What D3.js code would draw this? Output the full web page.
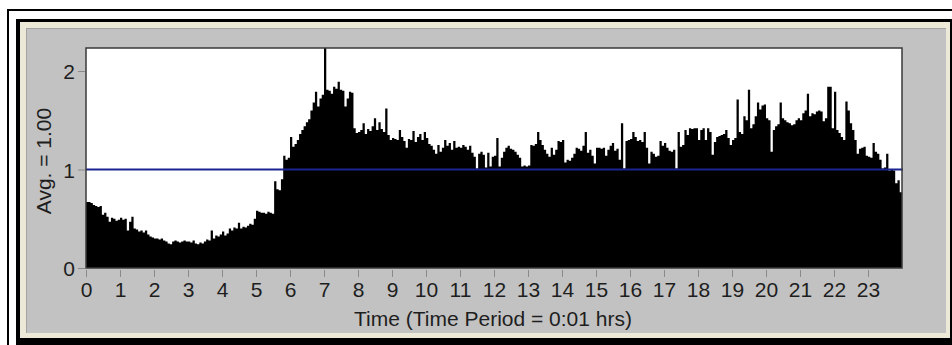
<!DOCTYPE html>
<html>
<head>
<meta charset="utf-8">
<script src="https://cdn.jsdelivr.net/npm/d3@7/dist/d3.min.js"></script>
<style>
  html, body { margin: 0; padding: 0; background: #ffffff; }
  svg { display: block; }
  text { font-family: "Liberation Sans", Arial, sans-serif; fill: #1e1e1e; }
</style>
</head>
<body>
<svg id="chart" width="952" height="345"></svg>
<script>
// Relative load per 4-minute interval, 15 intervals per hour (0:00 .. 23:56)
const minutesPerInterval = 4;
const intervalValues = [
  // 0h
  0.67,0.67,0.66,0.64,0.63,0.62,0.63,0.54,0.56,0.52,0.47,0.51,0.50,0.48,0.49,
  // 1h
  0.51,0.49,0.50,0.38,0.47,0.52,0.40,0.39,0.37,0.38,0.36,0.38,0.34,0.32,0.31,
  // 2h
  0.30,0.30,0.29,0.30,0.28,0.27,0.25,0.24,0.27,0.28,0.27,0.26,0.27,0.28,0.27,
  // 3h
  0.27,0.26,0.28,0.25,0.24,0.26,0.25,0.27,0.29,0.28,0.38,0.30,0.33,0.32,0.34,
  // 4h
  0.37,0.33,0.35,0.40,0.38,0.41,0.40,0.46,0.40,0.42,0.41,0.43,0.45,0.44,0.50,
  // 5h
  0.58,0.57,0.56,0.56,0.55,0.57,0.56,0.55,0.88,0.80,0.79,0.90,1.14,1.10,1.12,
  // 6h
  1.33,1.23,1.26,1.30,1.36,1.40,1.44,1.48,1.51,1.60,1.68,1.79,1.64,1.72,1.76,
  // 7h
  2.30,1.81,1.80,1.77,1.84,1.82,1.89,1.81,1.80,1.64,1.72,1.79,1.78,1.42,1.37,
  // 8h
  1.38,1.40,1.47,1.36,1.41,1.39,1.44,1.52,1.40,1.48,1.41,1.38,1.62,1.35,1.30,
  // 9h
  1.32,1.31,1.30,1.40,1.33,1.29,1.22,1.31,1.30,1.39,1.28,1.33,1.36,1.30,1.38,
  // 10h
  1.32,1.26,1.24,1.20,1.16,1.25,1.18,1.22,1.30,1.24,1.27,1.20,1.29,1.22,1.23,
  // 11h
  1.22,1.25,1.23,1.20,1.24,1.17,1.13,1.01,1.16,1.18,1.15,1.02,1.17,1.03,1.13,
  // 12h
  1.14,1.32,1.03,1.12,1.18,1.22,1.24,1.21,1.20,1.18,1.15,1.12,1.03,1.04,1.03,
  // 13h
  1.04,1.25,1.24,1.26,1.38,1.30,1.25,1.20,1.16,1.13,1.22,1.15,1.20,1.29,1.28,
  // 14h
  1.30,1.07,1.10,1.09,1.12,1.16,1.22,1.21,1.19,1.24,1.38,1.17,1.20,1.14,1.06,
  // 15h
  1.22,1.22,1.21,1.22,1.14,1.20,1.24,1.27,1.19,1.21,1.10,1.47,1.01,1.29,1.30,
  // 16h
  1.31,1.38,1.33,1.29,1.30,1.28,1.38,1.22,1.06,1.18,1.16,1.13,1.14,1.29,1.24,
  // 17h
  1.27,1.22,1.19,1.18,1.20,1.01,1.38,1.23,1.25,1.40,1.35,1.42,1.41,1.42,1.42,
  // 18h
  1.30,1.40,1.42,1.30,1.42,1.38,1.15,1.28,1.33,1.34,1.35,1.36,1.40,1.32,1.25,
  // 19h
  1.30,1.32,1.71,1.38,1.36,1.54,1.50,1.81,1.42,1.46,1.54,1.68,1.61,1.65,1.66,
  // 20h
  1.52,1.50,1.18,1.40,1.44,1.46,1.68,1.52,1.50,1.48,1.47,1.45,1.46,1.50,1.52,
  // 21h
  1.50,1.57,1.60,1.77,1.54,1.57,1.56,1.59,1.60,1.59,1.49,1.52,1.84,1.84,1.42,
  // 22h
  1.79,1.40,1.37,1.33,1.30,1.69,1.60,1.47,1.40,1.30,1.16,1.21,1.22,1.23,1.14,
  // 23h
  1.13,1.12,1.27,1.18,1.16,1.10,1.01,1.02,1.16,0.99,1.00,0.99,0.86,0.89,0.77
];
const hourTicks = d3.range(0, 24);               // 0 .. 23
const valueTicks = [0, 1, 2];
const averageValue = 1.00;
const yAxisTitle = "Avg. = 1.00";
const xAxisTitle = "Time (Time Period = 0:01 hrs)";

const svg = d3.select("#chart");

// Window-style frame around the chart panel
svg.append("rect").attr("x", 8).attr("y", 10).attr("width", 980).attr("height", 380)
  .attr("fill", "none").attr("stroke", "#000").attr("stroke-width", 2);
svg.append("rect").attr("x", 16).attr("y", 19).attr("width", 980).attr("height", 380).attr("fill", "#000");
svg.append("rect").attr("x", 20).attr("y", 22).attr("width", 930).attr("height", 316).attr("fill", "#ece9d8");
svg.append("rect").attr("x", 26).attr("y", 28).attr("width", 920).attr("height", 305).attr("fill", "#a3a3a3");
svg.append("rect").attr("x", 27).attr("y", 29).attr("width", 919).attr("height", 304).attr("fill", "#c2c2c2");

// Plot area
const plot = { left: 86, top: 48, right: 902, bottom: 268 };
const x = d3.scaleLinear().domain([0, 24]).range([plot.left, plot.right]);
const y = d3.scaleLinear().domain([0, 220 / 98.5]).range([plot.bottom, plot.top]);

svg.append("rect")
  .attr("x", plot.left).attr("y", plot.top)
  .attr("width", plot.right - plot.left).attr("height", plot.bottom - plot.top)
  .attr("fill", "#ffffff");

svg.append("clipPath").attr("id", "plotClip")
  .append("rect")
  .attr("x", plot.left).attr("y", plot.top)
  .attr("width", plot.right - plot.left).attr("height", plot.bottom - plot.top);

// Interval bars as one stepped area
const binHours = minutesPerInterval / 60;
const steps = intervalValues.map((v, i) => ({ t: i * binHours, v }));
steps.push({ t: 24, v: intervalValues[intervalValues.length - 1] });

const area = d3.area()
  .x(d => x(d.t))
  .y0(y(0))
  .y1(d => y(d.v))
  .curve(d3.curveStepAfter);

svg.append("path")
  .datum(steps)
  .attr("clip-path", "url(#plotClip)")
  .attr("fill", "#000")
  .attr("d", area);

// Average reference line
svg.append("line")
  .attr("x1", plot.left).attr("x2", plot.right + 1)
  .attr("y1", y(averageValue)).attr("y2", y(averageValue))
  .attr("stroke", "#1b2590").attr("stroke-width", 2);

// Plot border
svg.append("rect")
  .attr("x", plot.left).attr("y", plot.top)
  .attr("width", plot.right - plot.left).attr("height", plot.bottom - plot.top)
  .attr("fill", "none").attr("stroke", "#3a3a3a").attr("stroke-width", 1.5);

// X axis
const xAxis = d3.axisBottom(x).tickValues(hourTicks).tickSize(0).tickPadding(0).tickFormat(d3.format("d"));
const gx = svg.append("g").attr("transform", `translate(0,${plot.bottom})`).call(xAxis);
gx.select(".domain").remove();
gx.selectAll(".tick").append("line")
  .attr("y1", 2).attr("y2", 9).attr("stroke", "#8a8a8a").attr("stroke-width", 1);
gx.selectAll(".tick text")
  .attr("y", 29).attr("dy", null)
  .attr("font-size", 21).attr("fill", "#1e1e1e")
  .attr("font-family", "'Liberation Sans', Arial, sans-serif");

// Y axis
const yAxis = d3.axisLeft(y).tickValues(valueTicks).tickSize(0).tickPadding(0).tickFormat(d3.format("d"));
const gy = svg.append("g").attr("transform", `translate(${plot.left},0)`).call(yAxis);
gy.select(".domain").remove();
gy.selectAll(".tick").append("line")
  .attr("x1", -8).attr("x2", -1).attr("stroke", "#8a8a8a").attr("stroke-width", 1);
gy.selectAll(".tick text")
  .attr("x", -11).attr("dy", "0.36em")
  .attr("font-size", 21).attr("fill", "#1e1e1e")
  .attr("font-family", "'Liberation Sans', Arial, sans-serif");

// Axis titles
svg.append("text")
  .attr("transform", "translate(51,161) rotate(-90)")
  .attr("text-anchor", "middle")
  .attr("font-size", 21)
  .text(yAxisTitle);

svg.append("text")
  .attr("x", 493).attr("y", 326)
  .attr("text-anchor", "middle")
  .attr("font-size", 21)
  .text(xAxisTitle);
</script>
</body>
</html>
